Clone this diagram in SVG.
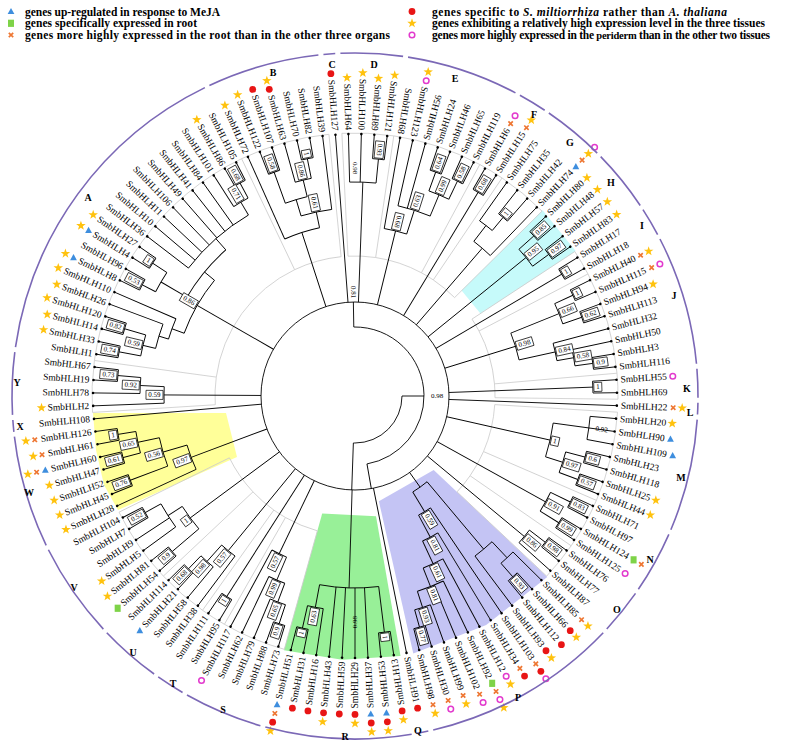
<svg xmlns="http://www.w3.org/2000/svg" xmlns:xlink="http://www.w3.org/1999/xlink" width="787" height="746" viewBox="0 0 787 746">
<style>
.b{stroke:#000;stroke-width:.9;fill:none}
.t{marker-end:url(#tip)}
.g{stroke:#cccccc;stroke-width:.8;fill:none}
.li,.lo{font-family:"Liberation Serif","Times New Roman",serif;font-size:9.5px;dominant-baseline:central;fill:#000}
.li{text-anchor:end}
.lo{text-anchor:start}
.bt rect{fill:#fff;stroke:#000;stroke-width:.7}
.bt text,.pl{font-family:"Liberation Serif","Times New Roman",serif;font-size:7px;text-anchor:middle;dominant-baseline:central}
.ga{stroke:#7b68b6;stroke-width:1.6;fill:none}
.gl{font-family:"Liberation Serif","Times New Roman",serif;font-size:10px;font-weight:bold;text-anchor:middle;dominant-baseline:central}
.lg{font-family:"Liberation Serif","Times New Roman",serif;font-size:11.5px;font-weight:bold}
</style>
<defs>
<marker id="tip" viewBox="-2 -2 4 4" markerWidth="4" markerHeight="4" markerUnits="userSpaceOnUse" refX="0" refY="0"><circle r="1.3" fill="#000"/></marker>
<polygon id="st" fill="#FFC20E" points="0,-5 1.18,-1.62 4.76,-1.55 1.9,0.62 2.94,4.05 0,2 -2.94,4.05 -1.9,0.62 -4.76,-1.55 -1.18,-1.62"/>
<polygon id="tr" fill="#3E8EDE" points="0,-3.6 3.4,2.6 -3.4,2.6"/>
<rect id="sq" fill="#7ED348" x="-3" y="-3.6" width="6" height="7.2"/>
<path id="xx" stroke="#EE7733" stroke-width="1.7" fill="none" d="M-2.2,-2.2L2.2,2.2M-2.2,2.2L2.2,-2.2"/>
<circle id="dt" fill="#E81515" r="3.4"/>
<circle id="rg" fill="none" stroke="#E23ACD" stroke-width="1.5" r="2.8"/>
</defs>
<rect width="787" height="746" fill="#fff"/>
<g id="highlights">
<polygon fill="#FFFF99" points="93,413 226,413 237,457 118,510 104,485 96,450"/>
<polygon fill="#C6FAFA" points="542.6,210.3 575.7,251.1 480.4,313.6 461.6,290.5"/>
<polygon fill="#98F098" points="322.2,513.5 376,516.2 400.5,656 342.1,659.7 284,650.3"/>
<polygon fill="#C4C4F4" points="433.7,470 547.3,576.9 486.2,625.1 413.3,653.5 378.9,501.3"/>
</g>
<g id="clade-outlines" class="g" transform="translate(355,396)">
<line x1="140" x2="263" transform="rotate(176.42)"/><line x1="140" x2="263" transform="rotate(187.76)"/><line x1="140" x2="263" transform="rotate(244.46)"/><line x1="140" x2="263" transform="rotate(264.31)"/><line x1="140" x2="263" transform="rotate(267.14)"/><line x1="140" x2="263" transform="rotate(278.48)"/><line x1="140" x2="263" transform="rotate(298.33)"/><line x1="140" x2="263" transform="rotate(304)"/><line x1="140" x2="263" transform="rotate(315.34)"/><line x1="140" x2="263" transform="rotate(326.68)"/><line x1="140" x2="263" transform="rotate(332.35)"/><line x1="140" x2="263" transform="rotate(355.03)"/><line x1="140" x2="263" transform="rotate(360.7)"/><line x1="140" x2="263" transform="rotate(363.53)"/><line x1="140" x2="263" transform="rotate(383.38)"/><line x1="140" x2="263" transform="rotate(394.72)"/><line x1="140" x2="263" transform="rotate(403.22)"/><line x1="140" x2="263" transform="rotate(465.59)"/><line x1="140" x2="263" transform="rotate(479.77)"/><line x1="140" x2="263" transform="rotate(485.44)"/><line x1="140" x2="263" transform="rotate(496.78)"/><line x1="140" x2="263" transform="rotate(513.79)"/>
<circle r="140" pathLength="360" stroke-dasharray="11.34 360" transform="rotate(176.42)"/><circle r="263" pathLength="360" stroke-dasharray="11.34 360" transform="rotate(176.42)"/>
<circle r="140" pathLength="360" stroke-dasharray="56.7 360" transform="rotate(187.76)"/><circle r="263" pathLength="360" stroke-dasharray="56.7 360" transform="rotate(187.76)"/>
<circle r="140" pathLength="360" stroke-dasharray="19.85 360" transform="rotate(244.46)"/><circle r="263" pathLength="360" stroke-dasharray="19.85 360" transform="rotate(244.46)"/>
<circle r="140" pathLength="360" stroke-dasharray="11.34 360" transform="rotate(267.14)"/><circle r="263" pathLength="360" stroke-dasharray="11.34 360" transform="rotate(267.14)"/>
<circle r="140" pathLength="360" stroke-dasharray="19.85 360" transform="rotate(278.48)"/><circle r="263" pathLength="360" stroke-dasharray="19.85 360" transform="rotate(278.48)"/>
<circle r="140" pathLength="360" stroke-dasharray="5.67 360" transform="rotate(298.33)"/><circle r="263" pathLength="360" stroke-dasharray="5.67 360" transform="rotate(298.33)"/>
<circle r="140" pathLength="360" stroke-dasharray="11.34 360" transform="rotate(304)"/><circle r="263" pathLength="360" stroke-dasharray="11.34 360" transform="rotate(304)"/>
<circle r="140" pathLength="360" stroke-dasharray="5.67 360" transform="rotate(326.68)"/><circle r="263" pathLength="360" stroke-dasharray="5.67 360" transform="rotate(326.68)"/>
<circle r="140" pathLength="360" stroke-dasharray="22.68 360" transform="rotate(332.35)"/><circle r="263" pathLength="360" stroke-dasharray="22.68 360" transform="rotate(332.35)"/>
<circle r="140" pathLength="360" stroke-dasharray="5.67 360" transform="rotate(355.03)"/><circle r="263" pathLength="360" stroke-dasharray="5.67 360" transform="rotate(355.03)"/>
<circle r="140" pathLength="360" stroke-dasharray="19.85 360" transform="rotate(363.53)"/><circle r="263" pathLength="360" stroke-dasharray="19.85 360" transform="rotate(363.53)"/>
<circle r="140" pathLength="360" stroke-dasharray="11.34 360" transform="rotate(383.38)"/><circle r="263" pathLength="360" stroke-dasharray="11.34 360" transform="rotate(383.38)"/>
<circle r="140" pathLength="360" stroke-dasharray="8.5 360" transform="rotate(394.72)"/><circle r="263" pathLength="360" stroke-dasharray="8.5 360" transform="rotate(394.72)"/>
<circle r="140" pathLength="360" stroke-dasharray="14.18 360" transform="rotate(465.59)"/><circle r="263" pathLength="360" stroke-dasharray="14.18 360" transform="rotate(465.59)"/>
<circle r="140" pathLength="360" stroke-dasharray="5.67 360" transform="rotate(479.77)"/><circle r="263" pathLength="360" stroke-dasharray="5.67 360" transform="rotate(479.77)"/>
<circle r="140" pathLength="360" stroke-dasharray="11.34 360" transform="rotate(485.44)"/><circle r="263" pathLength="360" stroke-dasharray="11.34 360" transform="rotate(485.44)"/>
<circle r="140" pathLength="360" stroke-dasharray="17.01 360" transform="rotate(496.78)"/><circle r="263" pathLength="360" stroke-dasharray="17.01 360" transform="rotate(496.78)"/>
</g>
<g id="connectors" class="b" transform="translate(355,396)">
<circle r="94"/>
<circle r="69" pathLength="360" stroke-dasharray="171 360" transform="rotate(269)"/>
<circle r="47" pathLength="360" stroke-dasharray="92 360" transform="rotate(0)"/>
<line x1="69" x2="94" transform="rotate(269)"/><line x1="69" x2="94" transform="rotate(80)"/><line x1="47" x2="69"/><line x1="47" x2="94" transform="rotate(92)"/>
<g id="leaf-branches">
<line class="t" x1="94" x2="262" transform="rotate(175)"/><line class="t" x1="191" x2="262" transform="rotate(177.84)"/><line class="t" x1="215" x2="262" transform="rotate(180.67)"/><line class="t" x1="238" x2="262" transform="rotate(183.51)"/><line class="t" x1="238" x2="262" transform="rotate(186.34)"/><line class="t" x1="240" x2="262" transform="rotate(189.18)"/><line class="t" x1="240" x2="262" transform="rotate(192.01)"/><line class="t" x1="240" x2="262" transform="rotate(194.85)"/><line class="t" x1="240" x2="262" transform="rotate(197.68)"/><line class="t" x1="205" x2="262" transform="rotate(200.52)"/><line class="t" x1="195" x2="262" transform="rotate(203.35)"/><line class="t" x1="240" x2="262" transform="rotate(206.19)"/><line class="t" x1="240" x2="262" transform="rotate(209.02)"/><line class="t" x1="242" x2="262" transform="rotate(211.86)"/><line class="t" x1="242" x2="262" transform="rotate(214.69)"/><line class="t" x1="210" x2="262" transform="rotate(217.53)"/><line class="t" x1="210" x2="262" transform="rotate(220.36)"/><line class="t" x1="210" x2="262" transform="rotate(223.2)"/><line class="t" x1="210" x2="262" transform="rotate(226.03)"/><line class="t" x1="210" x2="262" transform="rotate(228.87)"/><line class="t" x1="210" x2="262" transform="rotate(231.7)"/><line class="t" x1="210" x2="262" transform="rotate(234.54)"/><line class="t" x1="225" x2="262" transform="rotate(237.37)"/><line class="t" x1="242" x2="262" transform="rotate(240.21)"/><line class="t" x1="242" x2="262" transform="rotate(243.04)"/><line class="t" x1="172" x2="262" transform="rotate(245.88)"/><line class="t" x1="238" x2="262" transform="rotate(248.71)"/><line class="t" x1="238" x2="262" transform="rotate(251.55)"/><line class="t" x1="222" x2="262" transform="rotate(254.38)"/><line class="t" x1="242" x2="262" transform="rotate(257.22)"/><line class="t" x1="242" x2="262" transform="rotate(260.05)"/><line class="t" x1="188" x2="262" transform="rotate(262.89)"/><line class="t" x1="94" x2="262" transform="rotate(265.72)"/><line class="t" x1="214" x2="262" transform="rotate(268.56)"/><line class="t" x1="214" x2="262" transform="rotate(271.39)"/><line class="t" x1="238" x2="262" transform="rotate(274.23)"/><line class="t" x1="238" x2="262" transform="rotate(277.06)"/><line class="t" x1="170" x2="262" transform="rotate(279.9)"/><line class="t" x1="195" x2="262" transform="rotate(282.73)"/><line class="t" x1="195" x2="262" transform="rotate(285.57)"/><line class="t" x1="238" x2="262" transform="rotate(288.4)"/><line class="t" x1="238" x2="262" transform="rotate(291.24)"/><line class="t" x1="238" x2="262" transform="rotate(294.07)"/><line class="t" x1="238" x2="262" transform="rotate(296.91)"/><line class="t" x1="238" x2="262" transform="rotate(299.74)"/><line class="t" x1="238" x2="262" transform="rotate(302.58)"/><line class="t" x1="215" x2="262" transform="rotate(305.41)"/><line class="t" x1="232" x2="262" transform="rotate(308.25)"/><line class="t" x1="232" x2="262" transform="rotate(311.08)"/><line class="t" x1="195" x2="262" transform="rotate(313.92)"/><line class="t" x1="240" x2="262" transform="rotate(316.75)"/><line class="t" x1="240" x2="262" transform="rotate(319.59)"/><line class="t" x1="240" x2="262" transform="rotate(322.42)"/><line class="t" x1="240" x2="262" transform="rotate(325.26)"/><line class="t" x1="240" x2="262" transform="rotate(328.09)"/><line class="t" x1="240" x2="262" transform="rotate(330.93)"/><line class="t" x1="240" x2="262" transform="rotate(333.76)"/><line class="t" x1="240" x2="262" transform="rotate(336.6)"/><line class="t" x1="240" x2="262" transform="rotate(339.43)"/><line class="t" x1="240" x2="262" transform="rotate(342.27)"/><line class="t" x1="205" x2="262" transform="rotate(345.1)"/><line class="t" x1="222" x2="262" transform="rotate(347.94)"/><line class="t" x1="240" x2="262" transform="rotate(350.77)"/><line class="t" x1="240" x2="262" transform="rotate(353.61)"/><line class="t" x1="238" x2="262" transform="rotate(356.44)"/><line class="t" x1="238" x2="262" transform="rotate(359.28)"/><line class="t" x1="94" x2="262" transform="rotate(362.11)"/><line class="t" x1="236" x2="262" transform="rotate(364.95)"/><line class="t" x1="236" x2="262" transform="rotate(367.78)"/><line class="t" x1="236" x2="262" transform="rotate(370.62)"/><line class="t" x1="238" x2="262" transform="rotate(373.45)"/><line class="t" x1="238" x2="262" transform="rotate(376.29)"/><line class="t" x1="238" x2="262" transform="rotate(379.12)"/><line class="t" x1="238" x2="262" transform="rotate(381.96)"/><line class="t" x1="240" x2="262" transform="rotate(384.79)"/><line class="t" x1="240" x2="262" transform="rotate(387.63)"/><line class="t" x1="240" x2="262" transform="rotate(390.46)"/><line class="t" x1="240" x2="262" transform="rotate(393.3)"/><line class="t" x1="240" x2="262" transform="rotate(396.13)"/><line class="t" x1="240" x2="262" transform="rotate(398.97)"/><line class="t" x1="220" x2="262" transform="rotate(401.8)"/><line class="t" x1="222" x2="262" transform="rotate(404.64)"/><line class="t" x1="240" x2="262" transform="rotate(407.47)"/><line class="t" x1="240" x2="262" transform="rotate(410.31)"/><line class="t" x1="200" x2="262" transform="rotate(413.14)"/><line class="t" x1="135" x2="262" transform="rotate(415.98)"/><line class="t" x1="160" x2="262" transform="rotate(418.81)"/><line class="t" x1="185" x2="262" transform="rotate(421.65)"/><line class="t" x1="205" x2="262" transform="rotate(424.48)"/><line class="t" x1="205" x2="262" transform="rotate(427.32)"/><line class="t" x1="222" x2="262" transform="rotate(430.15)"/><line class="t" x1="240" x2="262" transform="rotate(432.99)"/><line class="t" x1="240" x2="262" transform="rotate(435.82)"/><line class="t" x1="94" x2="262" transform="rotate(438.66)"/><line class="t" x1="238" x2="262" transform="rotate(441.49)"/><line class="t" x1="238" x2="262" transform="rotate(444.33)"/><line class="t" x1="192" x2="262" transform="rotate(447.16)"/><line class="t" x1="192" x2="262" transform="rotate(450)"/><line class="t" x1="192" x2="262" transform="rotate(452.83)"/><line class="t" x1="192" x2="262" transform="rotate(455.67)"/><line class="t" x1="215" x2="262" transform="rotate(458.5)"/><line class="t" x1="238" x2="262" transform="rotate(461.34)"/><line class="t" x1="238" x2="262" transform="rotate(464.17)"/><line class="t" x1="240" x2="262" transform="rotate(467.01)"/><line class="t" x1="240" x2="262" transform="rotate(469.84)"/><line class="t" x1="220" x2="262" transform="rotate(472.68)"/><line class="t" x1="200" x2="262" transform="rotate(475.51)"/><line class="t" x1="175" x2="262" transform="rotate(478.35)"/><line class="t" x1="238" x2="262" transform="rotate(481.18)"/><line class="t" x1="238" x2="262" transform="rotate(484.02)"/><line class="t" x1="200" x2="262" transform="rotate(486.85)"/><line class="t" x1="222" x2="262" transform="rotate(489.69)"/><line class="t" x1="240" x2="262" transform="rotate(492.52)"/><line class="t" x1="240" x2="262" transform="rotate(495.36)"/><line class="t" x1="240" x2="262" transform="rotate(498.19)"/><line class="t" x1="240" x2="262" transform="rotate(501.03)"/><line class="t" x1="222" x2="262" transform="rotate(503.86)"/><line class="t" x1="222" x2="262" transform="rotate(506.7)"/><line class="t" x1="240" x2="262" transform="rotate(509.53)"/><line class="t" x1="240" x2="262" transform="rotate(512.37)"/><line class="t" x1="175" x2="262" transform="rotate(515.2)"/><line class="t" x1="240" x2="262" transform="rotate(518.04)"/><line class="t" x1="240" x2="262" transform="rotate(520.87)"/><line class="t" x1="240" x2="262" transform="rotate(523.71)"/><line class="t" x1="240" x2="262" transform="rotate(526.54)"/><line class="t" x1="240" x2="262" transform="rotate(529.38)"/><line class="t" x1="240" x2="262" transform="rotate(532.21)"/>
</g>
<g id="internal-branches">
<line x1="215" x2="238" transform="rotate(184.93)"/><line x1="191" x2="215" transform="rotate(182.8)"/><line x1="94" x2="191" transform="rotate(180.32)"/>
<line x1="218" x2="240" transform="rotate(190.6)"/><line x1="218" x2="240" transform="rotate(196.27)"/><line x1="205" x2="218" transform="rotate(193.43)"/><line x1="195" x2="205" transform="rotate(196.98)"/><line x1="225" x2="240" transform="rotate(207.6)"/><line x1="225" x2="242" transform="rotate(213.28)"/><line x1="225" x2="242" transform="rotate(241.63)"/><line x1="210" x2="225" transform="rotate(239.5)"/><line x1="195" x2="225" transform="rotate(210.44)"/><line x1="195" x2="210" transform="rotate(228.52)"/><line x1="182" x2="195" transform="rotate(200.17)"/><line x1="182" x2="195" transform="rotate(219.48)"/><line x1="94" x2="182" transform="rotate(209.83)"/>
<line x1="222" x2="242" transform="rotate(258.64)"/><line x1="205" x2="238" transform="rotate(250.13)"/><line x1="205" x2="222" transform="rotate(256.51)"/><line x1="188" x2="205" transform="rotate(253.32)"/><line x1="172" x2="188" transform="rotate(258.11)"/><line x1="94" x2="172" transform="rotate(252)"/>
<line x1="214" x2="238" transform="rotate(275.65)"/><line x1="94" x2="214" transform="rotate(272.1)"/>
<line x1="218" x2="238" transform="rotate(289.82)"/><line x1="218" x2="238" transform="rotate(295.49)"/><line x1="195" x2="218" transform="rotate(292.66)"/><line x1="170" x2="195" transform="rotate(287.7)"/><line x1="94" x2="170" transform="rotate(283.8)"/>
<line x1="94" x2="238" transform="rotate(301.16)"/>
<line x1="215" x2="232" transform="rotate(309.67)"/><line x1="195" x2="215" transform="rotate(307.54)"/><line x1="94" x2="195" transform="rotate(310.73)"/>
<line x1="220" x2="240" transform="rotate(318.17)"/><line x1="220" x2="240" transform="rotate(323.84)"/><line x1="94" x2="220" transform="rotate(321)"/>
<line x1="94" x2="240" transform="rotate(329.51)"/>
<line x1="220" x2="240" transform="rotate(335.18)"/><line x1="220" x2="240" transform="rotate(340.85)"/><line x1="222" x2="240" transform="rotate(352.19)"/><line x1="205" x2="222" transform="rotate(350.07)"/><line x1="168" x2="220" transform="rotate(338.02)"/><line x1="168" x2="205" transform="rotate(347.59)"/><line x1="94" x2="168" transform="rotate(342.8)"/>
<line x1="94" x2="238" transform="rotate(357.86)"/>
<line x1="218" x2="238" transform="rotate(374.87)"/><line x1="218" x2="238" transform="rotate(380.54)"/><line x1="200" x2="236" transform="rotate(367.78)"/><line x1="200" x2="218" transform="rotate(377.7)"/><line x1="94" x2="200" transform="rotate(372.74)"/>
<line x1="218" x2="240" transform="rotate(386.21)"/><line x1="218" x2="240" transform="rotate(391.88)"/><line x1="94" x2="218" transform="rotate(389.05)"/>
<line x1="220" x2="240" transform="rotate(397.55)"/><line x1="94" x2="220" transform="rotate(399.68)"/>
<line x1="222" x2="240" transform="rotate(408.89)"/><line x1="200" x2="222" transform="rotate(406.77)"/><line x1="222" x2="240" transform="rotate(434.41)"/><line x1="205" x2="222" transform="rotate(432.28)"/><line x1="185" x2="205" transform="rotate(428.38)"/><line x1="160" x2="185" transform="rotate(425.02)"/><line x1="135" x2="160" transform="rotate(421.92)"/><line x1="112" x2="200" transform="rotate(409.96)"/><line x1="112" x2="135" transform="rotate(418.95)"/><line x1="94" x2="112" transform="rotate(414.46)"/>
<line x1="192" x2="238" transform="rotate(442.91)"/><line x1="215" x2="238" transform="rotate(462.76)"/><line x1="192" x2="215" transform="rotate(460.63)"/><line x1="94" x2="192" transform="rotate(451.77)"/>
<line x1="220" x2="240" transform="rotate(468.43)"/><line x1="200" x2="220" transform="rotate(470.55)"/><line x1="175" x2="200" transform="rotate(473.03)"/><line x1="94" x2="175" transform="rotate(475.69)"/>
<line x1="94" x2="238" transform="rotate(482.6)"/>
<line x1="222" x2="240" transform="rotate(493.94)"/><line x1="200" x2="222" transform="rotate(491.82)"/><line x1="94" x2="200" transform="rotate(489.34)"/>
<line x1="222" x2="240" transform="rotate(510.95)"/><line x1="205" x2="240" transform="rotate(499.61)"/><line x1="205" x2="222" transform="rotate(507.41)"/><line x1="94" x2="205" transform="rotate(503.51)"/>
<line x1="222" x2="240" transform="rotate(530.8)"/><line x1="222" x2="240" transform="rotate(525.13)"/><line x1="200" x2="222" transform="rotate(527.96)"/><line x1="200" x2="240" transform="rotate(519.46)"/><line x1="175" x2="200" transform="rotate(523.71)"/><line x1="94" x2="175" transform="rotate(519.46)"/>
</g>
<g id="node-arcs">
<circle r="238" pathLength="360" stroke-dasharray="2.83 360" transform="rotate(183.51)"/><circle r="215" pathLength="360" stroke-dasharray="4.26 360" transform="rotate(180.67)"/><circle r="191" pathLength="360" stroke-dasharray="4.96 360" transform="rotate(177.84)"/>
<circle r="240" pathLength="360" stroke-dasharray="2.83 360" transform="rotate(189.18)"/><circle r="240" pathLength="360" stroke-dasharray="2.83 360" transform="rotate(194.85)"/><circle r="218" pathLength="360" stroke-dasharray="5.67 360" transform="rotate(190.6)"/><circle r="205" pathLength="360" stroke-dasharray="7.09 360" transform="rotate(193.43)"/><circle r="195" pathLength="360" stroke-dasharray="6.37 360" transform="rotate(196.98)"/><circle r="240" pathLength="360" stroke-dasharray="2.83 360" transform="rotate(206.19)"/><circle r="242" pathLength="360" stroke-dasharray="2.83 360" transform="rotate(211.86)"/><circle r="225" pathLength="360" stroke-dasharray="5.68 360" transform="rotate(207.6)"/><circle r="242" pathLength="360" stroke-dasharray="2.83 360" transform="rotate(240.21)"/><circle r="225" pathLength="360" stroke-dasharray="4.26 360" transform="rotate(237.37)"/><circle r="210" pathLength="360" stroke-dasharray="21.97 360" transform="rotate(217.53)"/><circle r="195" pathLength="360" stroke-dasharray="18.08 360" transform="rotate(210.44)"/><circle r="182" pathLength="360" stroke-dasharray="19.31 360" transform="rotate(200.17)"/>
<circle r="238" pathLength="360" stroke-dasharray="2.84 360" transform="rotate(248.71)"/><circle r="242" pathLength="360" stroke-dasharray="2.83 360" transform="rotate(257.22)"/><circle r="222" pathLength="360" stroke-dasharray="4.26 360" transform="rotate(254.38)"/><circle r="205" pathLength="360" stroke-dasharray="6.38 360" transform="rotate(250.13)"/><circle r="188" pathLength="360" stroke-dasharray="9.57 360" transform="rotate(253.32)"/><circle r="172" pathLength="360" stroke-dasharray="12.23 360" transform="rotate(245.88)"/>
<circle r="238" pathLength="360" stroke-dasharray="2.83 360" transform="rotate(274.23)"/><circle r="214" pathLength="360" stroke-dasharray="7.09 360" transform="rotate(268.56)"/>
<circle r="238" pathLength="360" stroke-dasharray="2.84 360" transform="rotate(288.4)"/><circle r="238" pathLength="360" stroke-dasharray="2.84 360" transform="rotate(294.07)"/><circle r="218" pathLength="360" stroke-dasharray="5.67 360" transform="rotate(289.82)"/><circle r="195" pathLength="360" stroke-dasharray="9.93 360" transform="rotate(282.73)"/><circle r="170" pathLength="360" stroke-dasharray="7.8 360" transform="rotate(279.9)"/>
<circle r="238" pathLength="360" stroke-dasharray="2.84 360" transform="rotate(299.74)"/>
<circle r="232" pathLength="360" stroke-dasharray="2.83 360" transform="rotate(308.25)"/><circle r="215" pathLength="360" stroke-dasharray="4.26 360" transform="rotate(305.41)"/><circle r="195" pathLength="360" stroke-dasharray="6.38 360" transform="rotate(307.54)"/>
<circle r="240" pathLength="360" stroke-dasharray="2.84 360" transform="rotate(316.75)"/><circle r="240" pathLength="360" stroke-dasharray="2.84 360" transform="rotate(322.42)"/><circle r="220" pathLength="360" stroke-dasharray="5.67 360" transform="rotate(318.17)"/>
<circle r="240" pathLength="360" stroke-dasharray="2.84 360" transform="rotate(328.09)"/>
<circle r="240" pathLength="360" stroke-dasharray="2.84 360" transform="rotate(333.76)"/><circle r="240" pathLength="360" stroke-dasharray="2.84 360" transform="rotate(339.43)"/><circle r="220" pathLength="360" stroke-dasharray="5.67 360" transform="rotate(335.18)"/><circle r="240" pathLength="360" stroke-dasharray="2.84 360" transform="rotate(350.77)"/><circle r="222" pathLength="360" stroke-dasharray="4.25 360" transform="rotate(347.94)"/><circle r="205" pathLength="360" stroke-dasharray="4.97 360" transform="rotate(345.1)"/><circle r="168" pathLength="360" stroke-dasharray="9.57 360" transform="rotate(338.02)"/>
<circle r="238" pathLength="360" stroke-dasharray="2.84 360" transform="rotate(356.44)"/>
<circle r="236" pathLength="360" stroke-dasharray="5.67 360" transform="rotate(364.95)"/><circle r="238" pathLength="360" stroke-dasharray="2.84 360" transform="rotate(373.45)"/><circle r="238" pathLength="360" stroke-dasharray="2.84 360" transform="rotate(379.12)"/><circle r="218" pathLength="360" stroke-dasharray="5.67 360" transform="rotate(374.87)"/><circle r="200" pathLength="360" stroke-dasharray="9.92 360" transform="rotate(367.78)"/>
<circle r="240" pathLength="360" stroke-dasharray="2.84 360" transform="rotate(384.79)"/><circle r="240" pathLength="360" stroke-dasharray="2.84 360" transform="rotate(390.46)"/><circle r="218" pathLength="360" stroke-dasharray="5.67 360" transform="rotate(386.21)"/>
<circle r="240" pathLength="360" stroke-dasharray="2.84 360" transform="rotate(396.13)"/><circle r="220" pathLength="360" stroke-dasharray="4.25 360" transform="rotate(397.55)"/>
<circle r="240" pathLength="360" stroke-dasharray="2.84 360" transform="rotate(407.47)"/><circle r="222" pathLength="360" stroke-dasharray="4.25 360" transform="rotate(404.64)"/><circle r="200" pathLength="360" stroke-dasharray="6.37 360" transform="rotate(406.77)"/><circle r="240" pathLength="360" stroke-dasharray="2.83 360" transform="rotate(432.99)"/><circle r="222" pathLength="360" stroke-dasharray="4.26 360" transform="rotate(430.15)"/><circle r="205" pathLength="360" stroke-dasharray="7.8 360" transform="rotate(424.48)"/><circle r="185" pathLength="360" stroke-dasharray="6.73 360" transform="rotate(421.65)"/><circle r="160" pathLength="360" stroke-dasharray="6.21 360" transform="rotate(418.81)"/><circle r="135" pathLength="360" stroke-dasharray="5.94 360" transform="rotate(415.98)"/><circle r="112" pathLength="360" stroke-dasharray="8.99 360" transform="rotate(409.96)"/>
<circle r="238" pathLength="360" stroke-dasharray="2.84 360" transform="rotate(441.49)"/><circle r="238" pathLength="360" stroke-dasharray="2.83 360" transform="rotate(461.34)"/><circle r="215" pathLength="360" stroke-dasharray="4.26 360" transform="rotate(458.5)"/><circle r="192" pathLength="360" stroke-dasharray="17.72 360" transform="rotate(442.91)"/>
<circle r="240" pathLength="360" stroke-dasharray="2.83 360" transform="rotate(467.01)"/><circle r="220" pathLength="360" stroke-dasharray="4.25 360" transform="rotate(468.43)"/><circle r="200" pathLength="360" stroke-dasharray="4.96 360" transform="rotate(470.55)"/><circle r="175" pathLength="360" stroke-dasharray="5.32 360" transform="rotate(473.03)"/>
<circle r="238" pathLength="360" stroke-dasharray="2.84 360" transform="rotate(481.18)"/>
<circle r="240" pathLength="360" stroke-dasharray="2.84 360" transform="rotate(492.52)"/><circle r="222" pathLength="360" stroke-dasharray="4.25 360" transform="rotate(489.69)"/><circle r="200" pathLength="360" stroke-dasharray="4.97 360" transform="rotate(486.85)"/>
<circle r="240" pathLength="360" stroke-dasharray="2.84 360" transform="rotate(509.53)"/><circle r="240" pathLength="360" stroke-dasharray="2.84 360" transform="rotate(498.19)"/><circle r="222" pathLength="360" stroke-dasharray="7.09 360" transform="rotate(503.86)"/><circle r="205" pathLength="360" stroke-dasharray="7.8 360" transform="rotate(499.61)"/>
<circle r="240" pathLength="360" stroke-dasharray="2.83 360" transform="rotate(529.38)"/><circle r="240" pathLength="360" stroke-dasharray="2.83 360" transform="rotate(523.71)"/><circle r="222" pathLength="360" stroke-dasharray="5.67 360" transform="rotate(525.13)"/><circle r="240" pathLength="360" stroke-dasharray="2.83 360" transform="rotate(518.04)"/><circle r="200" pathLength="360" stroke-dasharray="8.5 360" transform="rotate(519.46)"/><circle r="175" pathLength="360" stroke-dasharray="8.51 360" transform="rotate(515.2)"/>
</g>
</g>
<g id="support-values" transform="translate(355,396)">
<text class="pl" transform="rotate(269) translate(104) rotate(180)">0.81</text>
<text class="pl" transform="translate(82,0)">0.98</text>
<text class="pl" transform="rotate(270) translate(228) rotate(180)">0.98</text>
<text class="pl" transform="rotate(367.78) translate(249)">0.92</text>
<text class="pl" transform="rotate(450) translate(226) rotate(180)">0.98</text>
<g class="bt" transform="rotate(184.93) translate(247.5) rotate(180)"><rect x="-8.5" y="-4.5" width="17" height="9"/><text>0.73</text></g>
<g class="bt" transform="rotate(182.8) translate(224.5) rotate(180)"><rect x="-8.5" y="-4.5" width="17" height="9"/><text>0.92</text></g>
<g class="bt" transform="rotate(180.32) translate(200.5) rotate(180)"><rect x="-8.5" y="-4.5" width="17" height="9"/><text>0.59</text></g>
<g class="bt" transform="rotate(190.6) translate(249.5) rotate(180)"><rect x="-8.5" y="-4.5" width="17" height="9"/><text>0.74</text></g>
<g class="bt" transform="rotate(196.27) translate(249.5) rotate(180)"><rect x="-8.5" y="-4.5" width="17" height="9"/><text>0.82</text></g>
<g class="bt" transform="rotate(193.43) translate(227.5) rotate(180)"><rect x="-8.5" y="-4.5" width="17" height="9"/><text>0.59</text></g>
<g class="bt" transform="rotate(207.6) translate(249.5) rotate(180)"><rect x="-8.5" y="-4.5" width="17" height="9"/><text>0.53</text></g>
<g class="bt" transform="rotate(213.28) translate(247) rotate(180)"><rect x="-4" y="-4.5" width="8" height="9"/><text>1</text></g>
<g class="bt" transform="rotate(241.63) translate(251.5) rotate(180)"><rect x="-8.5" y="-4.5" width="17" height="9"/><text>0.68</text></g>
<g class="bt" transform="rotate(239.5) translate(234.5) rotate(180)"><rect x="-8.5" y="-4.5" width="17" height="9"/><text>0.71</text></g>
<g class="bt" transform="rotate(209.83) translate(191.5) rotate(180)"><rect x="-8.5" y="-4.5" width="17" height="9"/><text>0.86</text></g>
<g class="bt" transform="rotate(250.13) translate(247.5) rotate(180)"><rect x="-8.5" y="-4.5" width="17" height="9"/><text>0.58</text></g>
<g class="bt" transform="rotate(258.64) translate(247) rotate(180)"><rect x="-4" y="-4.5" width="8" height="9"/><text>1</text></g>
<g class="bt" transform="rotate(256.51) translate(231.5) rotate(180)"><rect x="-8.5" y="-4.5" width="17" height="9"/><text>0.86</text></g>
<g class="bt" transform="rotate(258.11) translate(197.5) rotate(180)"><rect x="-8.5" y="-4.5" width="17" height="9"/><text>0.61</text></g>
<g class="bt" transform="rotate(275.65) translate(247.5) rotate(180)"><rect x="-8.5" y="-4.5" width="17" height="9"/><text>0.93</text></g>
<g class="bt" transform="rotate(289.82) translate(247.5)"><rect x="-8.5" y="-4.5" width="17" height="9"/><text>0.64</text></g>
<g class="bt" transform="rotate(295.49) translate(247.5)"><rect x="-8.5" y="-4.5" width="17" height="9"/><text>0.58</text></g>
<g class="bt" transform="rotate(292.66) translate(227.5)"><rect x="-8.5" y="-4.5" width="17" height="9"/><text>0.99</text></g>
<g class="bt" transform="rotate(287.7) translate(204.5)"><rect x="-8.5" y="-4.5" width="17" height="9"/><text>0.63</text></g>
<g class="bt" transform="rotate(283.8) translate(179.5) rotate(180)"><rect x="-8.5" y="-4.5" width="17" height="9"/><text>0.68</text></g>
<g class="bt" transform="rotate(301.16) translate(247.5)"><rect x="-8.5" y="-4.5" width="17" height="9"/><text>0.68</text></g>
<g class="bt" transform="rotate(309.67) translate(237)"><rect x="-4" y="-4.5" width="8" height="9"/><text>1</text></g>
<g class="bt" transform="rotate(318.17) translate(249.5)"><rect x="-8.5" y="-4.5" width="17" height="9"/><text>0.85</text></g>
<g class="bt" transform="rotate(323.84) translate(249.5)"><rect x="-8.5" y="-4.5" width="17" height="9"/><text>0.97</text></g>
<g class="bt" transform="rotate(321) translate(229.5)"><rect x="-8.5" y="-4.5" width="17" height="9"/><text>0.95</text></g>
<g class="bt" transform="rotate(329.51) translate(245)"><rect x="-4" y="-4.5" width="8" height="9"/><text>1</text></g>
<g class="bt" transform="rotate(335.18) translate(245)"><rect x="-4" y="-4.5" width="8" height="9"/><text>1</text></g>
<g class="bt" transform="rotate(340.85) translate(249.5)"><rect x="-8.5" y="-4.5" width="17" height="9"/><text>0.62</text></g>
<g class="bt" transform="rotate(338.02) translate(229.5)"><rect x="-8.5" y="-4.5" width="17" height="9"/><text>0.66</text></g>
<g class="bt" transform="rotate(352.19) translate(248)"><rect x="-7" y="-4.5" width="14" height="9"/><text>0.9</text></g>
<g class="bt" transform="rotate(350.07) translate(231.5)"><rect x="-8.5" y="-4.5" width="17" height="9"/><text>0.58</text></g>
<g class="bt" transform="rotate(347.59) translate(214.5)"><rect x="-8.5" y="-4.5" width="17" height="9"/><text>0.84</text></g>
<g class="bt" transform="rotate(342.8) translate(177.5)"><rect x="-8.5" y="-4.5" width="17" height="9"/><text>0.98</text></g>
<g class="bt" transform="rotate(357.86) translate(243)"><rect x="-4" y="-4.5" width="8" height="9"/><text>1</text></g>
<g class="bt" transform="rotate(374.87) translate(246)"><rect x="-7" y="-4.5" width="14" height="9"/><text>0.6</text></g>
<g class="bt" transform="rotate(380.54) translate(247.5)"><rect x="-8.5" y="-4.5" width="17" height="9"/><text>0.57</text></g>
<g class="bt" transform="rotate(377.7) translate(227.5)"><rect x="-8.5" y="-4.5" width="17" height="9"/><text>0.97</text></g>
<g class="bt" transform="rotate(372.74) translate(205)"><rect x="-4" y="-4.5" width="8" height="9"/><text>1</text></g>
<g class="bt" transform="rotate(386.21) translate(249.5)"><rect x="-8.5" y="-4.5" width="17" height="9"/><text>0.83</text></g>
<g class="bt" transform="rotate(391.88) translate(249.5)"><rect x="-8.5" y="-4.5" width="17" height="9"/><text>0.99</text></g>
<g class="bt" transform="rotate(389.05) translate(227.5)"><rect x="-8.5" y="-4.5" width="17" height="9"/><text>0.91</text></g>
<g class="bt" transform="rotate(397.55) translate(249.5)"><rect x="-8.5" y="-4.5" width="17" height="9"/><text>0.98</text></g>
<g class="bt" transform="rotate(399.68) translate(229.5)"><rect x="-8.5" y="-4.5" width="17" height="9"/><text>0.86</text></g>
<g class="bt" transform="rotate(408.89) translate(249.5)"><rect x="-8.5" y="-4.5" width="17" height="9"/><text>0.93</text></g>
<g class="bt" transform="rotate(434.41) translate(249.5)"><rect x="-8.5" y="-4.5" width="17" height="9"/><text>0.77</text></g>
<g class="bt" transform="rotate(432.28) translate(231.5)"><rect x="-8.5" y="-4.5" width="17" height="9"/><text>0.93</text></g>
<g class="bt" transform="rotate(428.38) translate(214.5)"><rect x="-8.5" y="-4.5" width="17" height="9"/><text>0.81</text></g>
<g class="bt" transform="rotate(425.02) translate(194.5)"><rect x="-8.5" y="-4.5" width="17" height="9"/><text>0.61</text></g>
<g class="bt" transform="rotate(421.92) translate(169.5)"><rect x="-8.5" y="-4.5" width="17" height="9"/><text>0.81</text></g>
<g class="bt" transform="rotate(418.95) translate(144.5)"><rect x="-8.5" y="-4.5" width="17" height="9"/><text>0.59</text></g>
<g class="bt" transform="rotate(442.91) translate(243) rotate(180)"><rect x="-4" y="-4.5" width="8" height="9"/><text>1</text></g>
<g class="bt" transform="rotate(462.76) translate(243) rotate(180)"><rect x="-4" y="-4.5" width="8" height="9"/><text>1</text></g>
<g class="bt" transform="rotate(460.63) translate(224.5) rotate(180)"><rect x="-8.5" y="-4.5" width="17" height="9"/><text>0.63</text></g>
<g class="bt" transform="rotate(468.43) translate(248) rotate(180)"><rect x="-7" y="-4.5" width="14" height="9"/><text>0.9</text></g>
<g class="bt" transform="rotate(470.55) translate(229.5) rotate(180)"><rect x="-8.5" y="-4.5" width="17" height="9"/><text>0.65</text></g>
<g class="bt" transform="rotate(473.03) translate(209.5) rotate(180)"><rect x="-8.5" y="-4.5" width="17" height="9"/><text>0.99</text></g>
<g class="bt" transform="rotate(475.69) translate(184.5) rotate(180)"><rect x="-8.5" y="-4.5" width="17" height="9"/><text>0.57</text></g>
<g class="bt" transform="rotate(482.6) translate(243) rotate(180)"><rect x="-4" y="-4.5" width="8" height="9"/><text>1</text></g>
<g class="bt" transform="rotate(493.94) translate(249.5) rotate(180)"><rect x="-8.5" y="-4.5" width="17" height="9"/><text>0.68</text></g>
<g class="bt" transform="rotate(491.82) translate(231.5) rotate(180)"><rect x="-8.5" y="-4.5" width="17" height="9"/><text>0.98</text></g>
<g class="bt" transform="rotate(489.34) translate(209.5) rotate(180)"><rect x="-8.5" y="-4.5" width="17" height="9"/><text>0.57</text></g>
<g class="bt" transform="rotate(510.95) translate(249.5) rotate(180)"><rect x="-8.5" y="-4.5" width="17" height="9"/><text>0.52</text></g>
<g class="bt" transform="rotate(499.61) translate(248) rotate(180)"><rect x="-7" y="-4.5" width="14" height="9"/><text>0.9</text></g>
<g class="bt" transform="rotate(503.51) translate(210) rotate(180)"><rect x="-4" y="-4.5" width="8" height="9"/><text>1</text></g>
<g class="bt" transform="rotate(530.8) translate(245) rotate(180)"><rect x="-4" y="-4.5" width="8" height="9"/><text>1</text></g>
<g class="bt" transform="rotate(525.13) translate(249.5) rotate(180)"><rect x="-8.5" y="-4.5" width="17" height="9"/><text>0.61</text></g>
<g class="bt" transform="rotate(527.96) translate(231.5) rotate(180)"><rect x="-8.5" y="-4.5" width="17" height="9"/><text>0.65</text></g>
<g class="bt" transform="rotate(519.46) translate(249.5) rotate(180)"><rect x="-8.5" y="-4.5" width="17" height="9"/><text>0.76</text></g>
<g class="bt" transform="rotate(523.71) translate(209.5) rotate(180)"><rect x="-8.5" y="-4.5" width="17" height="9"/><text>0.56</text></g>
<g class="bt" transform="rotate(519.46) translate(184.5) rotate(180)"><rect x="-8.5" y="-4.5" width="17" height="9"/><text>0.97</text></g>
</g>
<g id="leaves" transform="translate(355,396)">
<g id="SmbHLH108"><text class="li" transform="rotate(175) translate(266) rotate(180)">SmbHLH108</text></g>
<g id="SmbHLH2"><text class="li" transform="rotate(177.84) translate(266) rotate(180)">SmbHLH2</text><use href="#st" transform="rotate(177.84) translate(313.7) rotate(-177.84)"/></g>
<g id="SmbHLH78"><text class="li" transform="rotate(180.67) translate(266) rotate(180)">SmbHLH78</text></g>
<g id="SmbHLH19"><text class="li" transform="rotate(183.51) translate(266) rotate(180)">SmbHLH19</text></g>
<g id="SmbHLH67"><text class="li" transform="rotate(186.34) translate(266) rotate(180)">SmbHLH67</text></g>
<g id="SmbHLH1"><text class="li" transform="rotate(189.18) translate(266) rotate(180)">SmbHLH1</text></g>
<g id="SmbHLH33"><text class="li" transform="rotate(192.01) translate(266) rotate(180)">SmbHLH33</text><use href="#st" transform="rotate(192.01) translate(318.4) rotate(-192.01)"/></g>
<g id="SmbHLH14"><text class="li" transform="rotate(194.85) translate(266) rotate(180)">SmbHLH14</text><use href="#st" transform="rotate(194.85) translate(318.4) rotate(-194.85)"/></g>
<g id="SmbHLH120"><text class="li" transform="rotate(197.68) translate(266) rotate(180)">SmbHLH120</text><use href="#st" transform="rotate(197.68) translate(323.2) rotate(-197.68)"/></g>
<g id="SmbHLH26"><text class="li" transform="rotate(200.52) translate(266) rotate(180)">SmbHLH26</text><use href="#st" transform="rotate(200.52) translate(318.4) rotate(-200.52)"/></g>
<g id="SmbHLH110"><text class="li" transform="rotate(203.35) translate(266) rotate(180)">SmbHLH110</text><use href="#st" transform="rotate(203.35) translate(323.2) rotate(-203.35)"/></g>
<g id="SmbHLH8"><text class="li" transform="rotate(206.19) translate(266) rotate(180)">SmbHLH8</text><use href="#tr" transform="rotate(206.19) translate(313.7) rotate(-206.19)"/><use href="#st" transform="rotate(206.19) translate(322.7) rotate(-206.19)"/></g>
<g id="SmbHLH96"><text class="li" transform="rotate(209.02) translate(266) rotate(180)">SmbHLH96</text></g>
<g id="SmbHLH4"><text class="li" transform="rotate(211.86) translate(266) rotate(180)">SmbHLH4</text><use href="#tr" transform="rotate(211.86) translate(313.7) rotate(-211.86)"/><use href="#st" transform="rotate(211.86) translate(322.7) rotate(-211.86)"/></g>
<g id="SmbHLH27"><text class="li" transform="rotate(214.69) translate(266) rotate(180)">SmbHLH27</text><use href="#st" transform="rotate(214.69) translate(318.4) rotate(-214.69)"/></g>
<g id="SmbHLH36"><text class="li" transform="rotate(217.53) translate(266) rotate(180)">SmbHLH36</text></g>
<g id="SmbHLH10"><text class="li" transform="rotate(220.36) translate(266) rotate(180)">SmbHLH10</text></g>
<g id="SmbHLH11"><text class="li" transform="rotate(223.2) translate(266) rotate(180)">SmbHLH11</text></g>
<g id="SmbHLH106"><text class="li" transform="rotate(226.03) translate(266) rotate(180)">SmbHLH106</text></g>
<g id="SmbHLH49"><text class="li" transform="rotate(228.87) translate(266) rotate(180)">SmbHLH49</text></g>
<g id="SmbHLH41"><text class="li" transform="rotate(231.7) translate(266) rotate(180)">SmbHLH41</text></g>
<g id="SmbHLH84"><text class="li" transform="rotate(234.54) translate(266) rotate(180)">SmbHLH84</text></g>
<g id="SmbHLH101"><text class="li" transform="rotate(237.37) translate(266) rotate(180)">SmbHLH101</text></g>
<g id="SmbHLH86"><text class="li" transform="rotate(240.21) translate(266) rotate(180)">SmbHLH86</text><use href="#st" transform="rotate(240.21) translate(318.4) rotate(-240.21)"/></g>
<g id="SmbHLH105"><text class="li" transform="rotate(243.04) translate(266) rotate(180)">SmbHLH105</text></g>
<g id="SmbHLH72"><text class="li" transform="rotate(245.88) translate(266) rotate(180)">SmbHLH72</text><use href="#st" transform="rotate(245.88) translate(318.4) rotate(-245.88)"/></g>
<g id="SmbHLH122"><text class="li" transform="rotate(248.71) translate(266) rotate(180)">SmbHLH122</text><use href="#st" transform="rotate(248.71) translate(323.2) rotate(-248.71)"/></g>
<g id="SmbHLH107"><text class="li" transform="rotate(251.55) translate(266) rotate(180)">SmbHLH107</text><use href="#dt" transform="rotate(251.55) translate(323.2) rotate(-251.55)"/></g>
<g id="SmbHLH63"><text class="li" transform="rotate(254.38) translate(266) rotate(180)">SmbHLH63</text><use href="#dt" transform="rotate(254.38) translate(318.4) rotate(-254.38)"/><use href="#st" transform="rotate(254.38) translate(327.4) rotate(-254.38)"/></g>
<g id="SmbHLH70"><text class="li" transform="rotate(257.22) translate(266) rotate(180)">SmbHLH70</text></g>
<g id="SmbHLH82"><text class="li" transform="rotate(260.05) translate(266) rotate(180)">SmbHLH82</text></g>
<g id="SmbHLH39"><text class="li" transform="rotate(262.89) translate(266) rotate(180)">SmbHLH39</text></g>
<g id="SmbHLH127"><text class="li" transform="rotate(265.72) translate(266) rotate(180)">SmbHLH127</text><use href="#dt" transform="rotate(265.72) translate(323.2) rotate(-265.72)"/></g>
<g id="SmbHLH64"><text class="li" transform="rotate(268.56) translate(266) rotate(180)">SmbHLH64</text><use href="#st" transform="rotate(268.56) translate(318.4) rotate(-268.56)"/></g>
<g id="SmbHLH100"><text class="li" transform="rotate(271.39) translate(266) rotate(180)">SmbHLH100</text><use href="#st" transform="rotate(271.39) translate(323.2) rotate(-271.39)"/></g>
<g id="SmbHLH89"><text class="li" transform="rotate(274.23) translate(266) rotate(180)">SmbHLH89</text><use href="#st" transform="rotate(274.23) translate(318.4) rotate(-274.23)"/></g>
<g id="SmbHLH121"><text class="li" transform="rotate(277.06) translate(266) rotate(180)">SmbHLH121</text><use href="#st" transform="rotate(277.06) translate(323.2) rotate(-277.06)"/></g>
<g id="SmbHLH68"><text class="li" transform="rotate(279.9) translate(266) rotate(180)">SmbHLH68</text></g>
<g id="SmbHLH123"><text class="li" transform="rotate(282.73) translate(266) rotate(180)">SmbHLH123</text><use href="#rg" transform="rotate(282.73) translate(323.2) rotate(-282.73)"/><use href="#st" transform="rotate(282.73) translate(332.2) rotate(-282.73)"/></g>
<g id="SmbHLH56"><text class="lo" transform="rotate(285.57) translate(266)">SmbHLH56</text></g>
<g id="SmbHLH24"><text class="lo" transform="rotate(288.4) translate(266)">SmbHLH24</text></g>
<g id="SmbHLH46"><text class="lo" transform="rotate(291.24) translate(266)">SmbHLH46</text></g>
<g id="SmbHLH65"><text class="lo" transform="rotate(294.07) translate(266)">SmbHLH65</text></g>
<g id="SmbHLH119"><text class="lo" transform="rotate(296.91) translate(266)">SmbHLH119</text></g>
<g id="SmbHLH6"><text class="lo" transform="rotate(299.74) translate(266)">SmbHLH6</text><use href="#xx" transform="rotate(299.74) translate(313.7) rotate(-299.74)"/><use href="#rg" transform="rotate(299.74) translate(322.7) rotate(-299.74)"/></g>
<g id="SmbHLH15"><text class="lo" transform="rotate(302.58) translate(266)">SmbHLH15</text><use href="#xx" transform="rotate(302.58) translate(318.4) rotate(-302.58)"/><use href="#st" transform="rotate(302.58) translate(327.4) rotate(-302.58)"/></g>
<g id="SmbHLH75"><text class="lo" transform="rotate(305.41) translate(266)">SmbHLH75</text></g>
<g id="SmbHLH35"><text class="lo" transform="rotate(308.25) translate(266)">SmbHLH35</text></g>
<g id="SmbHLH42"><text class="lo" transform="rotate(311.08) translate(266)">SmbHLH42</text></g>
<g id="SmbHLH74"><text class="lo" transform="rotate(313.92) translate(266)">SmbHLH74</text><use href="#tr" transform="rotate(313.92) translate(318.4) rotate(-313.92)"/><use href="#xx" transform="rotate(313.92) translate(327.4) rotate(-313.92)"/><use href="#st" transform="rotate(313.92) translate(336.4) rotate(-313.92)"/><use href="#rg" transform="rotate(313.92) translate(345.4) rotate(-313.92)"/></g>
<g id="SmbHLH80"><text class="lo" transform="rotate(316.75) translate(266)">SmbHLH80</text><use href="#st" transform="rotate(316.75) translate(318.4) rotate(-316.75)"/></g>
<g id="SmbHLH48"><text class="lo" transform="rotate(319.59) translate(266)">SmbHLH48</text><use href="#st" transform="rotate(319.59) translate(318.4) rotate(-319.59)"/></g>
<g id="SmbHLH57"><text class="lo" transform="rotate(322.42) translate(266)">SmbHLH57</text><use href="#st" transform="rotate(322.42) translate(318.4) rotate(-322.42)"/></g>
<g id="SmbHLH83"><text class="lo" transform="rotate(325.26) translate(266)">SmbHLH83</text><use href="#st" transform="rotate(325.26) translate(318.4) rotate(-325.26)"/></g>
<g id="SmbHLH17"><text class="lo" transform="rotate(328.09) translate(266)">SmbHLH17</text></g>
<g id="SmbHLH18"><text class="lo" transform="rotate(330.93) translate(266)">SmbHLH18</text></g>
<g id="SmbHLH40"><text class="lo" transform="rotate(333.76) translate(266)">SmbHLH40</text><use href="#xx" transform="rotate(333.76) translate(318.4) rotate(-333.76)"/><use href="#st" transform="rotate(333.76) translate(327.4) rotate(-333.76)"/></g>
<g id="SmbHLH115"><text class="lo" transform="rotate(336.6) translate(266)">SmbHLH115</text><use href="#xx" transform="rotate(336.6) translate(323.2) rotate(-336.6)"/><use href="#rg" transform="rotate(336.6) translate(332.2) rotate(-336.6)"/></g>
<g id="SmbHLH94"><text class="lo" transform="rotate(339.43) translate(266)">SmbHLH94</text><use href="#st" transform="rotate(339.43) translate(318.4) rotate(-339.43)"/></g>
<g id="SmbHLH113"><text class="lo" transform="rotate(342.27) translate(266)">SmbHLH113</text></g>
<g id="SmbHLH32"><text class="lo" transform="rotate(345.1) translate(266)">SmbHLH32</text></g>
<g id="SmbHLH50"><text class="lo" transform="rotate(347.94) translate(266)">SmbHLH50</text></g>
<g id="SmbHLH3"><text class="lo" transform="rotate(350.77) translate(266)">SmbHLH3</text></g>
<g id="SmbHLH116"><text class="lo" transform="rotate(353.61) translate(266)">SmbHLH116</text></g>
<g id="SmbHLH55"><text class="lo" transform="rotate(356.44) translate(266)">SmbHLH55</text><use href="#rg" transform="rotate(356.44) translate(318.4) rotate(-356.44)"/></g>
<g id="SmbHLH69"><text class="lo" transform="rotate(359.28) translate(266)">SmbHLH69</text></g>
<g id="SmbHLH22"><text class="lo" transform="rotate(362.11) translate(266)">SmbHLH22</text><use href="#xx" transform="rotate(362.11) translate(318.4) rotate(-362.11)"/><use href="#st" transform="rotate(362.11) translate(327.4) rotate(-362.11)"/></g>
<g id="SmbHLH20"><text class="lo" transform="rotate(364.95) translate(266)">SmbHLH20</text><use href="#st" transform="rotate(364.95) translate(318.4) rotate(-364.95)"/></g>
<g id="SmbHLH90"><text class="lo" transform="rotate(367.78) translate(266)">SmbHLH90</text><use href="#tr" transform="rotate(367.78) translate(318.4) rotate(-367.78)"/></g>
<g id="SmbHLH109"><text class="lo" transform="rotate(370.62) translate(266)">SmbHLH109</text><use href="#tr" transform="rotate(370.62) translate(323.2) rotate(-370.62)"/></g>
<g id="SmbHLH23"><text class="lo" transform="rotate(373.45) translate(266)">SmbHLH23</text></g>
<g id="SmbHLH118"><text class="lo" transform="rotate(376.29) translate(266)">SmbHLH118</text></g>
<g id="SmbHLH25"><text class="lo" transform="rotate(379.12) translate(266)">SmbHLH25</text><use href="#st" transform="rotate(379.12) translate(318.4) rotate(-379.12)"/></g>
<g id="SmbHLH44"><text class="lo" transform="rotate(381.96) translate(266)">SmbHLH44</text><use href="#st" transform="rotate(381.96) translate(318.4) rotate(-381.96)"/></g>
<g id="SmbHLH71"><text class="lo" transform="rotate(384.79) translate(266)">SmbHLH71</text></g>
<g id="SmbHLH97"><text class="lo" transform="rotate(387.63) translate(266)">SmbHLH97</text></g>
<g id="SmbHLH124"><text class="lo" transform="rotate(390.46) translate(266)">SmbHLH124</text><use href="#sq" transform="rotate(390.46) translate(323.2) rotate(-390.46)"/><use href="#xx" transform="rotate(390.46) translate(332.2) rotate(-390.46)"/></g>
<g id="SmbHLH125"><text class="lo" transform="rotate(393.3) translate(266)">SmbHLH125</text><use href="#rg" transform="rotate(393.3) translate(323.2) rotate(-393.3)"/></g>
<g id="SmbHLH76"><text class="lo" transform="rotate(396.13) translate(266)">SmbHLH76</text></g>
<g id="SmbHLH77"><text class="lo" transform="rotate(398.97) translate(266)">SmbHLH77</text></g>
<g id="SmbHLH87"><text class="lo" transform="rotate(401.8) translate(266)">SmbHLH87</text></g>
<g id="SmbHLH85"><text class="lo" transform="rotate(404.64) translate(266)">SmbHLH85</text><use href="#xx" transform="rotate(404.64) translate(318.4) rotate(-404.64)"/><use href="#st" transform="rotate(404.64) translate(327.4) rotate(-404.64)"/></g>
<g id="SmbHLH66"><text class="lo" transform="rotate(407.47) translate(266)">SmbHLH66</text><use href="#dt" transform="rotate(407.47) translate(318.4) rotate(-407.47)"/><use href="#st" transform="rotate(407.47) translate(327.4) rotate(-407.47)"/></g>
<g id="SmbHLH112"><text class="lo" transform="rotate(410.31) translate(266)">SmbHLH112</text><use href="#dt" transform="rotate(410.31) translate(323.2) rotate(-410.31)"/></g>
<g id="SmbHLH93"><text class="lo" transform="rotate(413.14) translate(266)">SmbHLH93</text><use href="#dt" transform="rotate(413.14) translate(318.4) rotate(-413.14)"/><use href="#st" transform="rotate(413.14) translate(327.4) rotate(-413.14)"/></g>
<g id="SmbHLH103"><text class="lo" transform="rotate(415.98) translate(266)">SmbHLH103</text><use href="#xx" transform="rotate(415.98) translate(323.2) rotate(-415.98)"/><use href="#dt" transform="rotate(415.98) translate(332.2) rotate(-415.98)"/><use href="#rg" transform="rotate(415.98) translate(341.2) rotate(-415.98)"/></g>
<g id="SmbHLH34"><text class="lo" transform="rotate(418.81) translate(266)">SmbHLH34</text><use href="#xx" transform="rotate(418.81) translate(318.4) rotate(-418.81)"/><use href="#dt" transform="rotate(418.81) translate(327.4) rotate(-418.81)"/></g>
<g id="SmbHLH12"><text class="lo" transform="rotate(421.65) translate(266)">SmbHLH12</text><use href="#rg" transform="rotate(421.65) translate(318.4) rotate(-421.65)"/><use href="#st" transform="rotate(421.65) translate(327.4) rotate(-421.65)"/></g>
<g id="SmbHLH92"><text class="lo" transform="rotate(424.48) translate(266)">SmbHLH92</text><use href="#sq" transform="rotate(424.48) translate(318.4) rotate(-424.48)"/><use href="#xx" transform="rotate(424.48) translate(327.4) rotate(-424.48)"/><use href="#rg" transform="rotate(424.48) translate(336.4) rotate(-424.48)"/><use href="#st" transform="rotate(424.48) translate(345.4) rotate(-424.48)"/></g>
<g id="SmbHLH102"><text class="lo" transform="rotate(427.32) translate(266)">SmbHLH102</text><use href="#xx" transform="rotate(427.32) translate(323.2) rotate(-427.32)"/><use href="#rg" transform="rotate(427.32) translate(332.2) rotate(-427.32)"/></g>
<g id="SmbHLH99"><text class="lo" transform="rotate(430.15) translate(266)">SmbHLH99</text><use href="#xx" transform="rotate(430.15) translate(318.4) rotate(-430.15)"/><use href="#st" transform="rotate(430.15) translate(327.4) rotate(-430.15)"/></g>
<g id="SmbHLH30"><text class="lo" transform="rotate(432.99) translate(266)">SmbHLH30</text><use href="#xx" transform="rotate(432.99) translate(318.4) rotate(-432.99)"/><use href="#rg" transform="rotate(432.99) translate(327.4) rotate(-432.99)"/></g>
<g id="SmbHLH98"><text class="lo" transform="rotate(435.82) translate(266)">SmbHLH98</text><use href="#xx" transform="rotate(435.82) translate(318.4) rotate(-435.82)"/><use href="#st" transform="rotate(435.82) translate(327.4) rotate(-435.82)"/></g>
<g id="SmbHLH91"><text class="lo" transform="rotate(438.66) translate(266)">SmbHLH91</text><use href="#dt" transform="rotate(438.66) translate(318.4) rotate(-438.66)"/></g>
<g id="SmbHLH13"><text class="li" transform="rotate(441.49) translate(266) rotate(180)">SmbHLH13</text><use href="#dt" transform="rotate(441.49) translate(318.4) rotate(-441.49)"/><use href="#st" transform="rotate(441.49) translate(327.4) rotate(-441.49)"/></g>
<g id="SmbHLH53"><text class="li" transform="rotate(444.33) translate(266) rotate(180)">SmbHLH53</text><use href="#tr" transform="rotate(444.33) translate(318.4) rotate(-444.33)"/><use href="#dt" transform="rotate(444.33) translate(327.4) rotate(-444.33)"/><use href="#st" transform="rotate(444.33) translate(336.4) rotate(-444.33)"/></g>
<g id="SmbHLH37"><text class="li" transform="rotate(447.16) translate(266) rotate(180)">SmbHLH37</text><use href="#tr" transform="rotate(447.16) translate(318.4) rotate(-447.16)"/><use href="#dt" transform="rotate(447.16) translate(327.4) rotate(-447.16)"/><use href="#st" transform="rotate(447.16) translate(336.4) rotate(-447.16)"/></g>
<g id="SmbHLH29"><text class="li" transform="rotate(450) translate(266) rotate(180)">SmbHLH29</text><use href="#dt" transform="rotate(450) translate(318.4) rotate(-450)"/><use href="#st" transform="rotate(450) translate(327.4) rotate(-450)"/></g>
<g id="SmbHLH59"><text class="li" transform="rotate(452.83) translate(266) rotate(180)">SmbHLH59</text><use href="#dt" transform="rotate(452.83) translate(318.4) rotate(-452.83)"/></g>
<g id="SmbHLH43"><text class="li" transform="rotate(455.67) translate(266) rotate(180)">SmbHLH43</text><use href="#dt" transform="rotate(455.67) translate(318.4) rotate(-455.67)"/><use href="#st" transform="rotate(455.67) translate(327.4) rotate(-455.67)"/></g>
<g id="SmbHLH16"><text class="li" transform="rotate(458.5) translate(266) rotate(180)">SmbHLH16</text><use href="#dt" transform="rotate(458.5) translate(318.4) rotate(-458.5)"/></g>
<g id="SmbHLH31"><text class="li" transform="rotate(461.34) translate(266) rotate(180)">SmbHLH31</text><use href="#dt" transform="rotate(461.34) translate(318.4) rotate(-461.34)"/></g>
<g id="SmbHLH51"><text class="li" transform="rotate(464.17) translate(266) rotate(180)">SmbHLH51</text><use href="#tr" transform="rotate(464.17) translate(318.4) rotate(-464.17)"/><use href="#xx" transform="rotate(464.17) translate(327.4) rotate(-464.17)"/><use href="#dt" transform="rotate(464.17) translate(336.4) rotate(-464.17)"/><use href="#st" transform="rotate(464.17) translate(345.4) rotate(-464.17)"/></g>
<g id="SmbHLH73"><text class="li" transform="rotate(467.01) translate(266) rotate(180)">SmbHLH73</text></g>
<g id="SmbHLH88"><text class="li" transform="rotate(469.84) translate(266) rotate(180)">SmbHLH88</text></g>
<g id="SmbHLH79"><text class="li" transform="rotate(472.68) translate(266) rotate(180)">SmbHLH79</text></g>
<g id="SmbHLH62"><text class="li" transform="rotate(475.51) translate(266) rotate(180)">SmbHLH62</text></g>
<g id="SmbHLH117"><text class="li" transform="rotate(478.35) translate(266) rotate(180)">SmbHLH117</text><use href="#rg" transform="rotate(478.35) translate(323.2) rotate(-478.35)"/></g>
<g id="SmbHLH95"><text class="li" transform="rotate(481.18) translate(266) rotate(180)">SmbHLH95</text></g>
<g id="SmbHLH111"><text class="li" transform="rotate(484.02) translate(266) rotate(180)">SmbHLH111</text></g>
<g id="SmbHLH38"><text class="li" transform="rotate(486.85) translate(266) rotate(180)">SmbHLH38</text></g>
<g id="SmbHLH58"><text class="li" transform="rotate(489.69) translate(266) rotate(180)">SmbHLH58</text></g>
<g id="SmbHLH21"><text class="li" transform="rotate(492.52) translate(266) rotate(180)">SmbHLH21</text><use href="#tr" transform="rotate(492.52) translate(318.4) rotate(-492.52)"/></g>
<g id="SmbHLH114"><text class="li" transform="rotate(495.36) translate(266) rotate(180)">SmbHLH114</text></g>
<g id="SmbHLH54"><text class="li" transform="rotate(498.19) translate(266) rotate(180)">SmbHLH54</text><use href="#sq" transform="rotate(498.19) translate(318.4) rotate(-498.19)"/></g>
<g id="SmbHLH81"><text class="li" transform="rotate(501.03) translate(266) rotate(180)">SmbHLH81</text><use href="#st" transform="rotate(501.03) translate(318.4) rotate(-501.03)"/></g>
<g id="SmbHLH5"><text class="li" transform="rotate(503.86) translate(266) rotate(180)">SmbHLH5</text><use href="#st" transform="rotate(503.86) translate(313.7) rotate(-503.86)"/></g>
<g id="SmbHLH9"><text class="li" transform="rotate(506.7) translate(266) rotate(180)">SmbHLH9</text></g>
<g id="SmbHLH7"><text class="li" transform="rotate(509.53) translate(266) rotate(180)">SmbHLH7</text></g>
<g id="SmbHLH104"><text class="li" transform="rotate(512.37) translate(266) rotate(180)">SmbHLH104</text></g>
<g id="SmbHLH28"><text class="li" transform="rotate(515.2) translate(266) rotate(180)">SmbHLH28</text><use href="#st" transform="rotate(515.2) translate(318.4) rotate(-515.2)"/></g>
<g id="SmbHLH45"><text class="li" transform="rotate(518.04) translate(266) rotate(180)">SmbHLH45</text><use href="#st" transform="rotate(518.04) translate(318.4) rotate(-518.04)"/></g>
<g id="SmbHLH52"><text class="li" transform="rotate(520.87) translate(266) rotate(180)">SmbHLH52</text><use href="#st" transform="rotate(520.87) translate(318.4) rotate(-520.87)"/></g>
<g id="SmbHLH47"><text class="li" transform="rotate(523.71) translate(266) rotate(180)">SmbHLH47</text><use href="#st" transform="rotate(523.71) translate(318.4) rotate(-523.71)"/></g>
<g id="SmbHLH60"><text class="li" transform="rotate(526.54) translate(266) rotate(180)">SmbHLH60</text><use href="#tr" transform="rotate(526.54) translate(318.4) rotate(-526.54)"/><use href="#xx" transform="rotate(526.54) translate(327.4) rotate(-526.54)"/><use href="#st" transform="rotate(526.54) translate(336.4) rotate(-526.54)"/></g>
<g id="SmbHLH61"><text class="li" transform="rotate(529.38) translate(266) rotate(180)">SmbHLH61</text><use href="#xx" transform="rotate(529.38) translate(318.4) rotate(-529.38)"/><use href="#st" transform="rotate(529.38) translate(327.4) rotate(-529.38)"/></g>
<g id="SmbHLH126"><text class="li" transform="rotate(532.21) translate(266) rotate(180)">SmbHLH126</text><use href="#xx" transform="rotate(532.21) translate(323.2) rotate(-532.21)"/><use href="#st" transform="rotate(532.21) translate(332.2) rotate(-532.21)"/></g>
</g>
<g id="clade-arcs" class="ga" transform="translate(355,396)">
<circle r="343" pathLength="360" stroke-dasharray="2 360" transform="rotate(174)"/>
<circle r="343" pathLength="360" stroke-dasharray="10.5 360" transform="rotate(176.84)"/>
<circle r="343" pathLength="360" stroke-dasharray="55.86 360" transform="rotate(188.18)"/>
<circle r="343" pathLength="360" stroke-dasharray="19.01 360" transform="rotate(244.88)"/>
<circle r="343" pathLength="360" stroke-dasharray="2 360" transform="rotate(264.72)"/>
<circle r="343" pathLength="360" stroke-dasharray="10.5 360" transform="rotate(267.56)"/>
<circle r="343" pathLength="360" stroke-dasharray="19.01 360" transform="rotate(278.9)"/>
<circle r="343" pathLength="360" stroke-dasharray="4.84 360" transform="rotate(298.74)"/>
<circle r="343" pathLength="360" stroke-dasharray="10.51 360" transform="rotate(304.41)"/>
<circle r="343" pathLength="360" stroke-dasharray="10.51 360" transform="rotate(315.75)"/>
<circle r="343" pathLength="360" stroke-dasharray="4.84 360" transform="rotate(327.09)"/>
<circle r="343" pathLength="360" stroke-dasharray="21.85 360" transform="rotate(332.76)"/>
<circle r="343" pathLength="360" stroke-dasharray="4.84 360" transform="rotate(355.44)"/>
<circle r="343" pathLength="360" stroke-dasharray="2 360" transform="rotate(361.11)"/>
<circle r="343" pathLength="360" stroke-dasharray="19.01 360" transform="rotate(363.95)"/>
<circle r="343" pathLength="360" stroke-dasharray="10.51 360" transform="rotate(383.79)"/>
<circle r="343" pathLength="360" stroke-dasharray="7.67 360" transform="rotate(395.13)"/>
<circle r="343" pathLength="360" stroke-dasharray="33.18 360" transform="rotate(403.64)"/>
<circle r="343" pathLength="360" stroke-dasharray="2 360" transform="rotate(437.66)"/>
<circle r="343" pathLength="360" stroke-dasharray="24.68 360" transform="rotate(440.49)"/>
<circle r="343" pathLength="360" stroke-dasharray="13.34 360" transform="rotate(466.01)"/>
<circle r="343" pathLength="360" stroke-dasharray="4.84 360" transform="rotate(480.18)"/>
<circle r="343" pathLength="360" stroke-dasharray="10.51 360" transform="rotate(485.85)"/>
<circle r="343" pathLength="360" stroke-dasharray="16.18 360" transform="rotate(497.19)"/>
<circle r="343" pathLength="360" stroke-dasharray="19.01 360" transform="rotate(514.2)"/>
</g>
<g id="clade-letters">
<text class="gl" x="88" y="197">A</text><text class="gl" x="273" y="72">B</text><text class="gl" x="332" y="64">C</text><text class="gl" x="374" y="64">D</text><text class="gl" x="455" y="78">E</text><text class="gl" x="534" y="114">F</text><text class="gl" x="570" y="142">G</text><text class="gl" x="611" y="182">H</text><text class="gl" x="642" y="225">I</text><text class="gl" x="674" y="295">J</text><text class="gl" x="687" y="388">K</text><text class="gl" x="690" y="412">L</text><text class="gl" x="681" y="477">M</text><text class="gl" x="650" y="559">N</text><text class="gl" x="617" y="609">O</text><text class="gl" x="518" y="697">P</text><text class="gl" x="418" y="730">Q</text><text class="gl" x="345" y="736">R</text><text class="gl" x="223" y="709">S</text><text class="gl" x="173" y="683">T</text><text class="gl" x="133" y="652">U</text><text class="gl" x="74" y="587">V</text><text class="gl" x="29" y="492">W</text><text class="gl" x="20" y="426">X</text><text class="gl" x="17" y="382">Y</text>
</g>
<g id="legend">
<use href="#tr" transform="translate(11,11.5)"/>
<text class="lg" x="25" y="15.5" font-size="12" textLength="195" lengthAdjust="spacing">genes up-regulated in response to MeJA</text>
<use href="#sq" transform="translate(11,23.3)"/>
<text class="lg" x="25" y="27.3" font-size="12" textLength="172" lengthAdjust="spacing">genes specifically expressed in root</text>
<use href="#xx" transform="translate(11,35)"/>
<text class="lg" x="25" y="39" font-size="12" textLength="365" lengthAdjust="spacing">genes more highly expressed in the root than in the other three organs</text>
<use href="#dt" transform="translate(412,11.5)"/>
<text class="lg" x="432" y="15.5" textLength="295" lengthAdjust="spacing">genes specific to <tspan font-style="italic">S. miltiorrhiza</tspan> rather than <tspan font-style="italic">A. thaliana</tspan></text>
<use href="#st" transform="translate(412,23.3)"/>
<text class="lg" x="432" y="27.3" textLength="333" lengthAdjust="spacing">genes exhibiting a relatively high expression level in the three tissues</text>
<use href="#rg" transform="translate(412,35)"/>
<text class="lg" x="432" y="39" textLength="338" lengthAdjust="spacing">genes more highly expressed in the<tspan font-size="10.5"> periderm</tspan> than in the other two tissues</text>
</g>
</svg>
